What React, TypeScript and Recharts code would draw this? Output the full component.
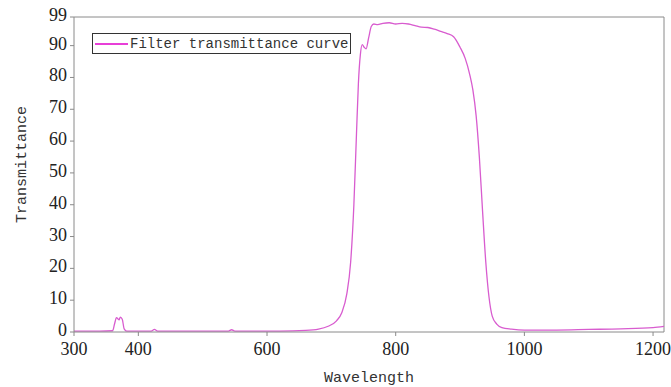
import { LineChart, Line, XAxis, YAxis, ReferenceLine } from 'recharts';

// Wavelength (nm) and transmittance (%)
const wavelengths = [
  300, 340, 360, 363, 366, 368, 370, 372, 375, 378, 382, 420, 425, 430, 460, 540, 545, 550,
  620, 660, 680, 695, 708, 716, 724, 730, 735, 739, 742, 745, 748, 751, 754, 758, 762, 766,
  772, 780, 790, 800, 810, 820, 830, 840, 850, 860, 870, 880, 890, 900, 908, 915, 920, 925,
  930, 935, 940, 945, 950, 957, 965, 980, 1000, 1050, 1100, 1150, 1200, 1217,
];
const transmittance = [
  0.3, 0.3, 0.4, 2.5, 4.5, 4.2, 3.8, 4.7, 4.0, 1.0, 0.3, 0.3, 0.8, 0.3, 0.3, 0.3, 0.7, 0.3,
  0.3, 0.5, 0.9, 1.8, 3.5, 6, 12, 22, 40, 62, 78, 87, 90.3, 89.5, 89, 92.5, 96, 96.8,
  96.6, 97, 97.2, 96.8, 97, 96.8, 96.3, 95.8, 95.7, 95.2, 94.5, 93.8, 92.8, 89.5, 86, 81, 76, 68,
  55, 38, 22, 11, 5, 2.5, 1.4, 0.9, 0.6, 0.6, 0.8, 1.0, 1.4, 1.8,
];
const xTicks = [300, 400, 600, 800, 1000, 1200];
const yTicks = [0, 10, 20, 30, 40, 50, 60, 70, 80, 90, 99];

const data = wavelengths.map((w, i) => ({ w, t: transmittance[i] }));

const LINE_COLOR = '#d85ccf';
const AXIS_COLOR = '#8a8a8a';
const MONO = '"Liberation Mono", monospace';
const SERIF = '"Liberation Serif", serif';

const XTick = ({ x, y, payload }: any) => (
  <text x={x} y={y + 17} textAnchor="middle" fill="#222" style={{ fontFamily: SERIF, fontSize: 18 }}>
    {payload.value}
  </text>
);

const YTick = ({ x, y, payload }: any) => (
  <text x={x - 1} y={y + 4} textAnchor="end" fill="#222" style={{ fontFamily: SERIF, fontSize: 18 }}>
    {payload.value}
  </text>
);

const App = () => (
  <div style={{ position: 'absolute', left: 0, top: 0, width: 671, height: 387, background: '#fff' }}>
    <LineChart
      width={671}
      height={387}
      data={data}
      margin={{ top: 17, right: 7, left: 0, bottom: 0 }}
    >
      <XAxis
        dataKey="w"
        type="number"
        domain={[300, 1217]}
        ticks={xTicks}
        allowDataOverflow
        height={55}
        stroke={AXIS_COLOR}
        tickSize={4}
        tick={<XTick />}
        label={{
          value: 'Wavelength',
          position: 'insideBottom',
          offset: 5,
          fill: '#333',
          fontSize: 15,
          style: { fontFamily: MONO },
        }}
      />
      <YAxis
        type="number"
        domain={[0, 99]}
        ticks={yTicks}
        interval={0}
        width={74}
        stroke={AXIS_COLOR}
        tickSize={4}
        tick={<YTick />}
        label={{
          value: 'Transmittance',
          angle: -90,
          position: 'insideLeft',
          offset: 21,
          dy: -10,
          fill: '#333',
          fontSize: 15,
          style: { textAnchor: 'middle', fontFamily: MONO },
        }}
      />
      <ReferenceLine y={99} stroke={AXIS_COLOR} />
      <ReferenceLine x={1217} stroke={AXIS_COLOR} />
      <Line
        type="monotone"
        dataKey="t"
        stroke={LINE_COLOR}
        strokeWidth={1.3}
        dot={false}
        isAnimationActive={false}
      />
    </LineChart>
    <div
      style={{
        position: 'absolute',
        left: 92,
        top: 33,
        display: 'flex',
        alignItems: 'center',
        border: '1px solid #333',
        height: 19,
        padding: '0 2px',
        background: '#fff',
        fontFamily: MONO,
        fontSize: 14,
        color: '#333',
        whiteSpace: 'nowrap',
      }}
    >
      <span style={{ display: 'inline-block', width: 33, height: 2, background: '#e83fd8', marginRight: 2 }} />
      <span>Filter transmittance curve</span>
    </div>
  </div>
);

export default App;
